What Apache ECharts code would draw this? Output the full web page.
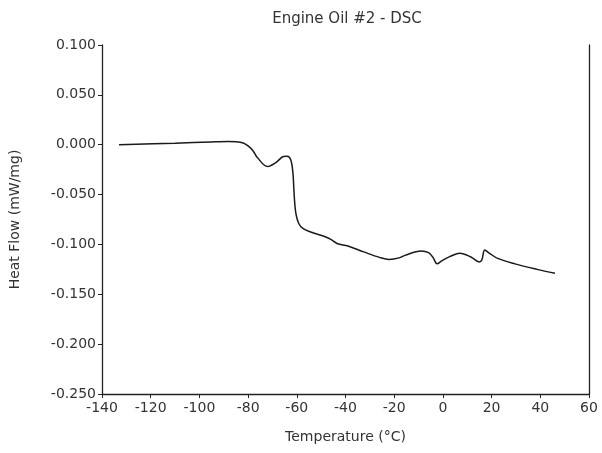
<!DOCTYPE html>
<html>
<head>
<meta charset="utf-8">
<script src="https://cdn.jsdelivr.net/npm/echarts@6/dist/echarts.min.js"></script>
<style>
  html, body { margin: 0; padding: 0; background: #fff; }
  #chart { width: 602px; height: 453px; }
</style>
</head>
<body>
<div id="chart"></div>
<script>
// temperature (°C)
const temps = [
  -133, -110, -95, -88, -85, -82, -80, -78, -76.2, -72, -68.5, -65.5, -64, -62.5,
  -61.6, -61.2, -60.8, -60.3, -59.2, -57.5, -54.3, -48.6, -46, -43.5, -39,
  -32.5, -26, -22, -18, -15.6, -9, -5.9, -4, -2.4, -0.5, 3, 7, 11.5, 15, 16,
  17.2, 19.2, 22.5, 29.6, 38.6, 46
];
// heat flow (mW/mg)
const heatFlow = [
  0.0, 0.0015, 0.0028, 0.0032, 0.003, 0.0018, -0.0012, -0.006, -0.0129, -0.0219, -0.0177, -0.0118, -0.0115, -0.015,
  -0.028, -0.045, -0.06, -0.07, -0.079, -0.084, -0.0875, -0.092, -0.095, -0.099, -0.1016,
  -0.1075, -0.113, -0.115, -0.1135, -0.111, -0.1066, -0.1083, -0.1133, -0.1195, -0.1165, -0.112, -0.1088, -0.1126, -0.1175, -0.1155,
  -0.1056, -0.109, -0.114, -0.1195, -0.125, -0.129
];

const font = "DejaVu Sans";
const axisColor = "#222";
const textColor = "#333";

let chart = echarts.init(document.getElementById("chart"));
let option = {
  animation: false,
  title: {
    text: "Engine Oil #2 - DSC",
    left: 342,
    textAlign: "center",
    top: 7,
    textStyle: { fontFamily: font, fontSize: 15, fontWeight: "normal", color: textColor },
  },
  grid: { left: 101, right: 13, top: 45, bottom: 59 },
  xAxis: {
    type: "value",
    min: -140,
    max: 60,
    interval: 20,
    name: "Temperature (°C)",
    nameLocation: "middle",
    nameGap: 36,
    nameTextStyle: { fontFamily: font, fontSize: 14, color: textColor },
    axisLine: { show: true, onZero: false, lineStyle: { color: axisColor, width: 1.3 } },
    axisTick: { show: true, length: 4, lineStyle: { color: axisColor } },
    axisLabel: { fontFamily: font, fontSize: 14, color: textColor, margin: 7 },
    splitLine: { show: false },
  },
  yAxis: [
    {
      type: "value",
      min: -0.25,
      max: 0.1,
      interval: 0.05,
      name: "Heat Flow (mW/mg)",
      nameLocation: "middle",
      nameGap: 80,
      nameTextStyle: { fontFamily: font, fontSize: 14, color: textColor },
      axisLine: { show: true, onZero: false, lineStyle: { color: axisColor, width: 1.3 } },
      axisTick: { show: true, length: 4, lineStyle: { color: axisColor } },
      axisLabel: {
        fontFamily: font,
        fontSize: 14,
        color: textColor,
        margin: 6,
        formatter: (v) => v.toFixed(3),
      },
      splitLine: { show: false },
    },
    {
      type: "value",
      position: "right",
      min: -0.25,
      max: 0.1,
      axisLine: { show: true, onZero: false, lineStyle: { color: axisColor, width: 1.3 } },
      axisTick: { show: false },
      axisLabel: { show: false },
      splitLine: { show: false },
    },
  ],
  series: [
    {
      type: "line",
      data: temps.map((t, i) => [t, heatFlow[i]]),
      smooth: 0.35,
      showSymbol: false,
      lineStyle: { color: "#1a1a1a", width: 1.5 },
    },
  ],
};
chart.setOption(option);
</script>
</body>
</html>
